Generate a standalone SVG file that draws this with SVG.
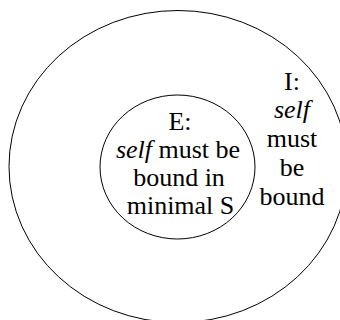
<svg xmlns="http://www.w3.org/2000/svg" width="340" height="320" viewBox="0 0 340 320">
<style>
.ring{fill:none;stroke:#000;stroke-width:1}
.t{font-size:26px;fill:#000;text-anchor:middle}
.i{font-style:italic}
</style>
<rect width="340" height="320" fill="#fff"/>
<g id="node-I" font-family="Liberation Serif, Times New Roman, DejaVu Serif, serif">
<ellipse class="ring" cx="178" cy="166.5" rx="169" ry="156"/>
<text class="t" x="292" y="90">I:</text>
<text class="t i" x="292" y="118">self</text>
<text class="t" x="292" y="147">must</text>
<text class="t" x="292" y="176">be</text>
<text class="t" x="292" y="205">bound</text>
</g>
<g id="node-E" font-family="Liberation Serif, Times New Roman, DejaVu Serif, serif">
<ellipse class="ring" cx="177.5" cy="167" rx="77.5" ry="72"/>
<text class="t" x="180" y="130">E:</text>
<text class="t" x="178" y="158"><tspan class="i">self</tspan> must be</text>
<text class="t" x="179" y="186">bound in</text>
<text class="t" x="180.5" y="214">minimal S</text>
</g>
<g id="connectors"/>
</svg>
